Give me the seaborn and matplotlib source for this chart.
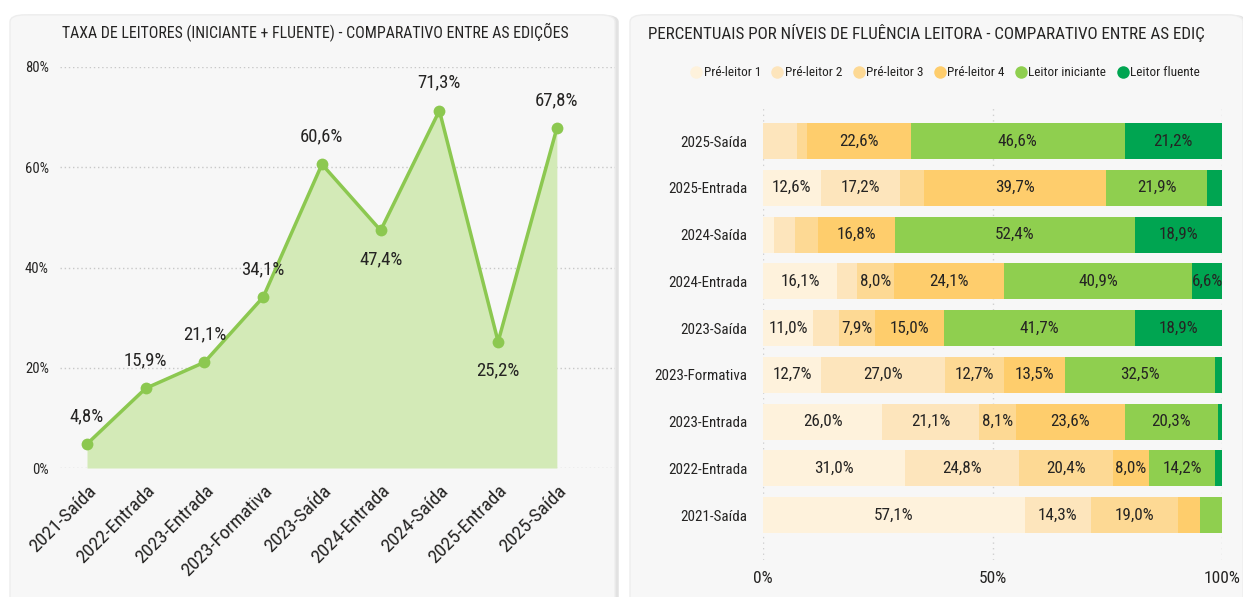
import numpy as np
import pandas as pd
import matplotlib
matplotlib.use('Agg')
import matplotlib.pyplot as plt
from matplotlib import font_manager
from matplotlib.patches import FancyBboxPatch
from matplotlib.lines import Line2D
import seaborn as sns

# dados - grafico de linha
edicoes = ['2021-Saída', '2022-Entrada', '2023-Entrada', '2023-Formativa', '2023-Saída',
           '2024-Entrada', '2024-Saída', '2025-Entrada', '2025-Saída']
taxa_leitores = [4.8, 15.9, 21.1, 34.1, 60.6, 47.4, 71.3, 25.2, 67.8]
y_ticks = [0, 20, 40, 60, 80]

# dados - barras empilhadas (ordem de cima para baixo)
edicoes_barras = ['2025-Saída', '2025-Entrada', '2024-Saída', '2024-Entrada', '2023-Saída',
                  '2023-Formativa', '2023-Entrada', '2022-Entrada', '2021-Saída']
niveis = ['Pré-leitor 1', 'Pré-leitor 2', 'Pré-leitor 3', 'Pré-leitor 4',
          'Leitor iniciante', 'Leitor fluente']
pre_leitor_1 = [0.0, 12.6, 2.4, 16.1, 11.0, 12.7, 26.0, 31.0, 57.1]
pre_leitor_2 = [7.5, 17.2, 4.6, 4.4, 5.5, 27.0, 21.1, 24.8, 14.3]
pre_leitor_3 = [2.1, 5.3, 4.9, 8.0, 7.9, 12.7, 8.1, 20.4, 19.0]
pre_leitor_4 = [22.6, 39.7, 16.8, 24.1, 15.0, 13.5, 23.6, 8.0, 4.8]
leitor_iniciante = [46.6, 21.9, 52.4, 40.9, 41.7, 32.5, 20.3, 14.2, 4.8]
leitor_fluente = [21.2, 3.3, 18.9, 6.6, 18.9, 1.6, 0.8, 1.7, 0.0]
x_ticks_barras = [0, 50, 100]

cores = ['#FEF2DC', '#FDE5BC', '#FDD994', '#FECD6C', '#8FCF4F', '#00A551']
cor_linha = '#8CC850'
cor_area = '#D3EAB7'
cor_texto = '#252423'

# fonte estreita, se existir
nomes = {f.name for f in font_manager.fontManager.ttflist}
fonte = 'DejaVu Sans'
for cand in ['Liberation Sans Narrow', 'Roboto Condensed', 'Open Sans Condensed',
             'Noto Sans Condensed', 'DejaVu Sans Condensed']:
    if cand in nomes:
        fonte = cand
        break

sns.set_theme(style='white')
plt.rcParams['font.family'] = [fonte, 'DejaVu Sans']
plt.rcParams['font.stretch'] = 'condensed'

fig = plt.figure(figsize=(12.43, 5.97), dpi=100)
fig.patch.set_facecolor('white')

# paineis de fundo (cartoes)
for x0, w in [(10, 605), (630, 613)]:
    sombra = FancyBboxPatch((x0 / 1243 + 0.003, -0.05), w / 1243, (582 + 30) / 597,
                            boxstyle='round,pad=0,rounding_size=0.012',
                            transform=fig.transFigure, facecolor='#E2E2E2',
                            edgecolor='none', zorder=-3)
    card = FancyBboxPatch((x0 / 1243, -0.05), w / 1243, (582 + 30) / 597,
                          boxstyle='round,pad=0,rounding_size=0.012',
                          transform=fig.transFigure, facecolor='#F7F7F7',
                          edgecolor='#EDEDED', zorder=-2)
    fig.patches.extend([sombra, card])

# ---------------- grafico de linha ----------------
ax1 = fig.add_axes([60 / 1243, 1 - 468 / 597, 555 / 1243, 401 / 597])
ax1.set_facecolor('none')
df_linha = pd.DataFrame({'edicao': edicoes, 'taxa': taxa_leitores})
pos = np.arange(len(edicoes))
ax1.fill_between(pos, df_linha['taxa'], 0, color=cor_area, linewidth=0, zorder=1)
sns.lineplot(data=df_linha, x='edicao', y='taxa', ax=ax1, color=cor_linha, linewidth=2.5,
             marker='o', markersize=8.5, markeredgewidth=0, sort=False, zorder=3)
ax1.set_xlim(-0.46, 8.99)
ax1.set_ylim(0, 80)
ax1.set_yticks(y_ticks)
ax1.set_yticklabels([f'{v}%' for v in y_ticks], fontsize=10.5, color=cor_texto)
ax1.set_xticks(pos)
ax1.set_xticklabels(edicoes, rotation=45, ha='right', va='top', rotation_mode='anchor',
                    fontsize=14, color=cor_texto)
ax1.tick_params(axis='x', pad=10, length=0)
ax1.tick_params(axis='y', pad=8, length=0)
ax1.set_xlabel('')
ax1.set_ylabel('')
for s in ax1.spines.values():
    s.set_visible(False)
ax1.yaxis.grid(True, linestyle=(0, (1, 2)), color='#C8C8C8', linewidth=1)
ax1.set_axisbelow(True)

for i, v in enumerate(taxa_leitores):
    antes = taxa_leitores[i - 1] if i > 0 else -1
    depois = taxa_leitores[i + 1] if i < len(taxa_leitores) - 1 else -1
    baixo = v < antes and v < depois
    txt = f'{v:.1f}'.replace('.', ',') + '%'
    ax1.annotate(txt, (i, v), xytext=(0, -21 if baixo else 20), textcoords='offset points',
                 ha='center', va='center', fontsize=13.5, color=cor_texto, zorder=5)

t1 = fig.text(315 / 1243, 1 - 33 / 597,
              'TAXA DE LEITORES (INICIANTE + FLUENTE) - COMPARATIVO ENTRE AS EDIÇÕES',
              ha='center', va='center', fontsize=12, color=cor_texto)

# ---------------- barras empilhadas ----------------
ax2 = fig.add_axes([763 / 1243, 1 - 560 / 597, 459 / 1243, 455 / 597])
ax2.set_facecolor('none')
df_barras = pd.DataFrame({'edicao': edicoes_barras, 'Pré-leitor 1': pre_leitor_1,
                          'Pré-leitor 2': pre_leitor_2, 'Pré-leitor 3': pre_leitor_3,
                          'Pré-leitor 4': pre_leitor_4, 'Leitor iniciante': leitor_iniciante,
                          'Leitor fluente': leitor_fluente})
acum = df_barras[niveis].cumsum(axis=1)
# desenha do maior acumulado para o menor
for nivel, cor in reversed(list(zip(niveis, cores))):
    sns.barplot(x=acum[nivel], y=df_barras['edicao'], orient='h', color=cor,
                width=0.77, ax=ax2, linewidth=0, saturation=1, zorder=2)

sem_rotulo = {('2025-Saída', 'Pré-leitor 2')}
for i, ed in enumerate(edicoes_barras):
    for nivel in niveis:
        v = df_barras.loc[i, nivel]
        if v < 6.5 or (ed, nivel) in sem_rotulo:
            continue
        cx = acum.loc[i, nivel] - v / 2
        ax2.text(cx, i, f'{v:.1f}'.replace('.', ',') + '%', ha='center', va='center',
                 fontsize=12.3, color=cor_texto, zorder=4)

ax2.set_xlim(0, 100)
ax2.set_ylim(8.96, -0.77)
ax2.set_xticks(x_ticks_barras)
ax2.set_xticklabels([f'{v}%' for v in x_ticks_barras], fontsize=12.5, color=cor_texto)
ax2.tick_params(axis='x', pad=8, length=0)
ax2.tick_params(axis='y', pad=11, length=0, labelsize=10.8, labelcolor=cor_texto)
ax2.set_xlabel('')
ax2.set_ylabel('')
for s in ax2.spines.values():
    s.set_visible(False)
ax2.xaxis.grid(True, linestyle=(0, (1, 3)), color='#D0D0D0', linewidth=1)
ax2.set_axisbelow(True)

t2 = fig.text(648 / 1243, 1 - 33 / 597,
              'PERCENTUAIS POR NÍVEIS DE FLUÊNCIA LEITORA - COMPARATIVO ENTRE AS EDIÇ',
              ha='left', va='center', fontsize=12, color=cor_texto)

handles = [Line2D([], [], marker='o', linestyle='none', markersize=9,
                  markerfacecolor=c, markeredgewidth=0) for c in cores]
fig.legend(handles, niveis, loc='center', bbox_to_anchor=(945 / 1243, 1 - 73 / 597),
           ncol=6, frameon=False, fontsize=9.5, handletextpad=0.1, columnspacing=0.8,
           handlelength=0.9, labelcolor=cor_texto)

# ajusta os titulos a largura do original
fig.canvas.draw()
rend = fig.canvas.get_renderer()
for t, alvo in [(t1, 505), (t2, 555)]:
    w = t.get_window_extent(rend).width
    t.set_fontsize(t.get_fontsize() * alvo / w)

fig.savefig('out.png', dpi=100)
